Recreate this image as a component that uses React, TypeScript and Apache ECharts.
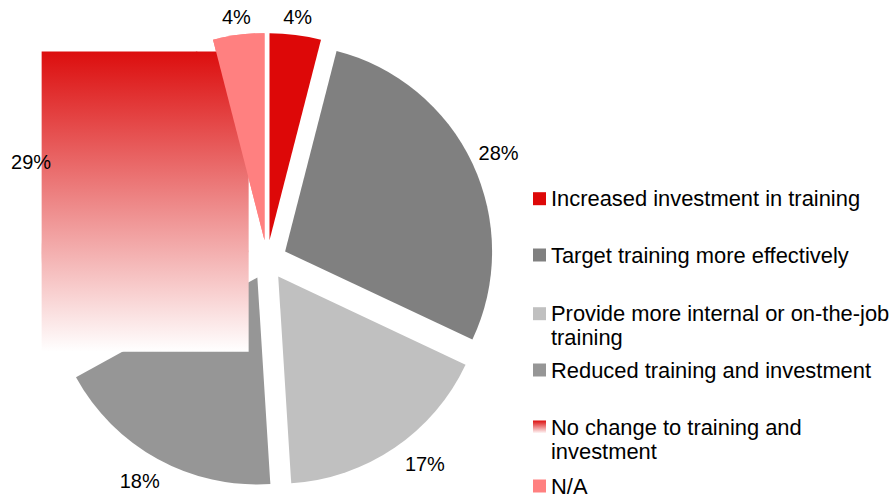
import React, { useEffect, useRef } from "react";
import * as echarts from "echarts";

const categories = [
  "Increased investment in training",
  "Target training more effectively",
  "Provide more internal or on-the-job training",
  "Reduced training and investment",
  "No change to training and investment",
  "N/A",
];
const legendText = [
  "Increased investment in training",
  "Target training more effectively",
  "Provide more internal or on-the-job\ntraining",
  "Reduced training and investment",
  "No change to training and\ninvestment",
  "N/A",
];
const values = [4, 28, 17, 18, 29, 4];
const colors = ["#DD0808", "#808080", "#C0C0C0", "#969696", "gradient", "#FF8080"];
const labelLengths = [17.5, 29, 29, 29, 30, 17.5];
const labelNudges = [
  [0, 0],
  [0, 2],
  [14, -8],
  [-4, -3],
  [0, 4],
  [0, 0],
];

const FONT = "'Liberation Sans', Arial, Helvetica, sans-serif";
const CX = 267;
const CY = 260;
const R = 207;
const OFFSET = 20;
const legendIconCenters = [198.7, 255, 313.7, 370, 427, 486];
const LINE_H = 24;
const SINGLE_H = 22;

const makeGradient = () =>
  new echarts.graphic.LinearGradient(0, 0, 0, 1, [
    { offset: 0, color: "#DC0E0E" },
    { offset: 1, color: "#FFFFFF" },
  ]);

export default function App() {
  const ref = useRef<HTMLDivElement>(null);
  useEffect(() => {
    if (!ref.current) return;
    const chart = echarts.init(ref.current, null, { renderer: "svg" });

    const mainData = categories.map((name, i) => ({
      name,
      value: values[i],
      selected: true,
      itemStyle: { color: colors[i] === "gradient" ? makeGradient() : colors[i] },
    }));
    const topData = categories.map((name, i) => ({
      name,
      value: values[i],
      selected: true,
      itemStyle: { color: i === 5 ? colors[i] : "rgba(0,0,0,0)" },
      labelLine: { length: labelLengths[i], length2: 0, show: false },
    }));

    const legends = categories.map((name, i) => {
      const twoLine = legendText[i].includes("\n");
      // two-line entries get an empty leading line so the icon sits beside the first line
      const blockH = twoLine ? 3 * LINE_H : SINGLE_H;
      const top = legendIconCenters[i] - blockH / 2;
      return {
        show: true,
        orient: "vertical",
        left: 533,
        top,
        padding: 0,
        itemWidth: 13,
        itemHeight: 13,
        icon: "rect",
        selectedMode: false,
        formatter: twoLine ? "\n" + legendText[i] : legendText[i],
        data: [name],
        textStyle: {
          fontFamily: FONT,
          fontSize: 21.9,
          color: "#000",
          lineHeight: twoLine ? LINE_H : SINGLE_H,
        },
      };
    });

    const common = {
      type: "pie",
      center: [CX, CY],
      radius: R,
      startAngle: 90,
      clockwise: true,
      selectedMode: "multiple",
      selectedOffset: OFFSET,
      avoidLabelOverlap: false,
      emphasis: { disabled: true },
      itemStyle: { borderWidth: 0 },
    };

    chart.setOption({
      animation: false,
      backgroundColor: "#fff",
      tooltip: { show: false },
      legend: legends,
      series: [
        {
          ...common,
          z: 2,
          label: { show: false },
          labelLine: { show: false },
          data: mainData,
        },
        {
          ...common,
          z: 4,
          label: {
            show: true,
            position: "outside",
            formatter: "{c}%",
            fontFamily: FONT,
            fontSize: 20,
            color: "#000",
            distanceToLabelLine: 0,
          },
          labelLine: { show: false, length: 29, length2: 0 },
          labelLayout: (p: any) => ({
            align: "center",
            verticalAlign: "middle",
            dx: labelNudges[p.dataIndex][0],
            dy: labelNudges[p.dataIndex][1],
          }),
          data: topData,
        },
      ],
    });

    // The "No change" slice is shown as its bounding box filled with a gradient,
    // derived from the pie layout computed by ECharts.
    try {
      const data = (chart as any).getModel().getSeriesByIndex(0).getData();
      const lay = data.getItemLayout(4);
      const a0 = Math.min(lay.startAngle, lay.endAngle);
      const a1 = Math.max(lay.startAngle, lay.endAngle);
      const mid = (a0 + a1) / 2;
      const ox = Math.cos(mid) * OFFSET;
      const oy = Math.sin(mid) * OFFSET;
      const pts: number[][] = [[0, 0]];
      pts.push([Math.cos(a0) * lay.r, Math.sin(a0) * lay.r]);
      pts.push([Math.cos(a1) * lay.r, Math.sin(a1) * lay.r]);
      const q = Math.PI / 2;
      for (let k = Math.ceil(a0 / q); k <= Math.floor(a1 / q); k++) {
        pts.push([Math.cos(k * q) * lay.r, Math.sin(k * q) * lay.r]);
      }
      const xs = pts.map((p) => p[0]);
      const ys = pts.map((p) => p[1]);
      const x0 = lay.cx + ox + Math.min(...xs);
      const x1 = lay.cx + ox + Math.max(...xs);
      const y0 = lay.cy + oy + Math.min(...ys);
      const y1 = lay.cy + oy + Math.max(...ys);
      chart.setOption({
        graphic: {
          elements: [
            {
              type: "rect",
              z: 3,
              shape: { x: x0, y: y0, width: x1 - x0, height: y1 - y0 },
              style: { fill: makeGradient() },
              silent: true,
            },
          ],
        },
      });
    } catch (e) {
      // ignore
    }

    return () => chart.dispose();
  }, []);

  return (
    <div
      ref={ref}
      style={{ position: "absolute", left: 0, top: 0, width: 890, height: 497 }}
    />
  );
}
